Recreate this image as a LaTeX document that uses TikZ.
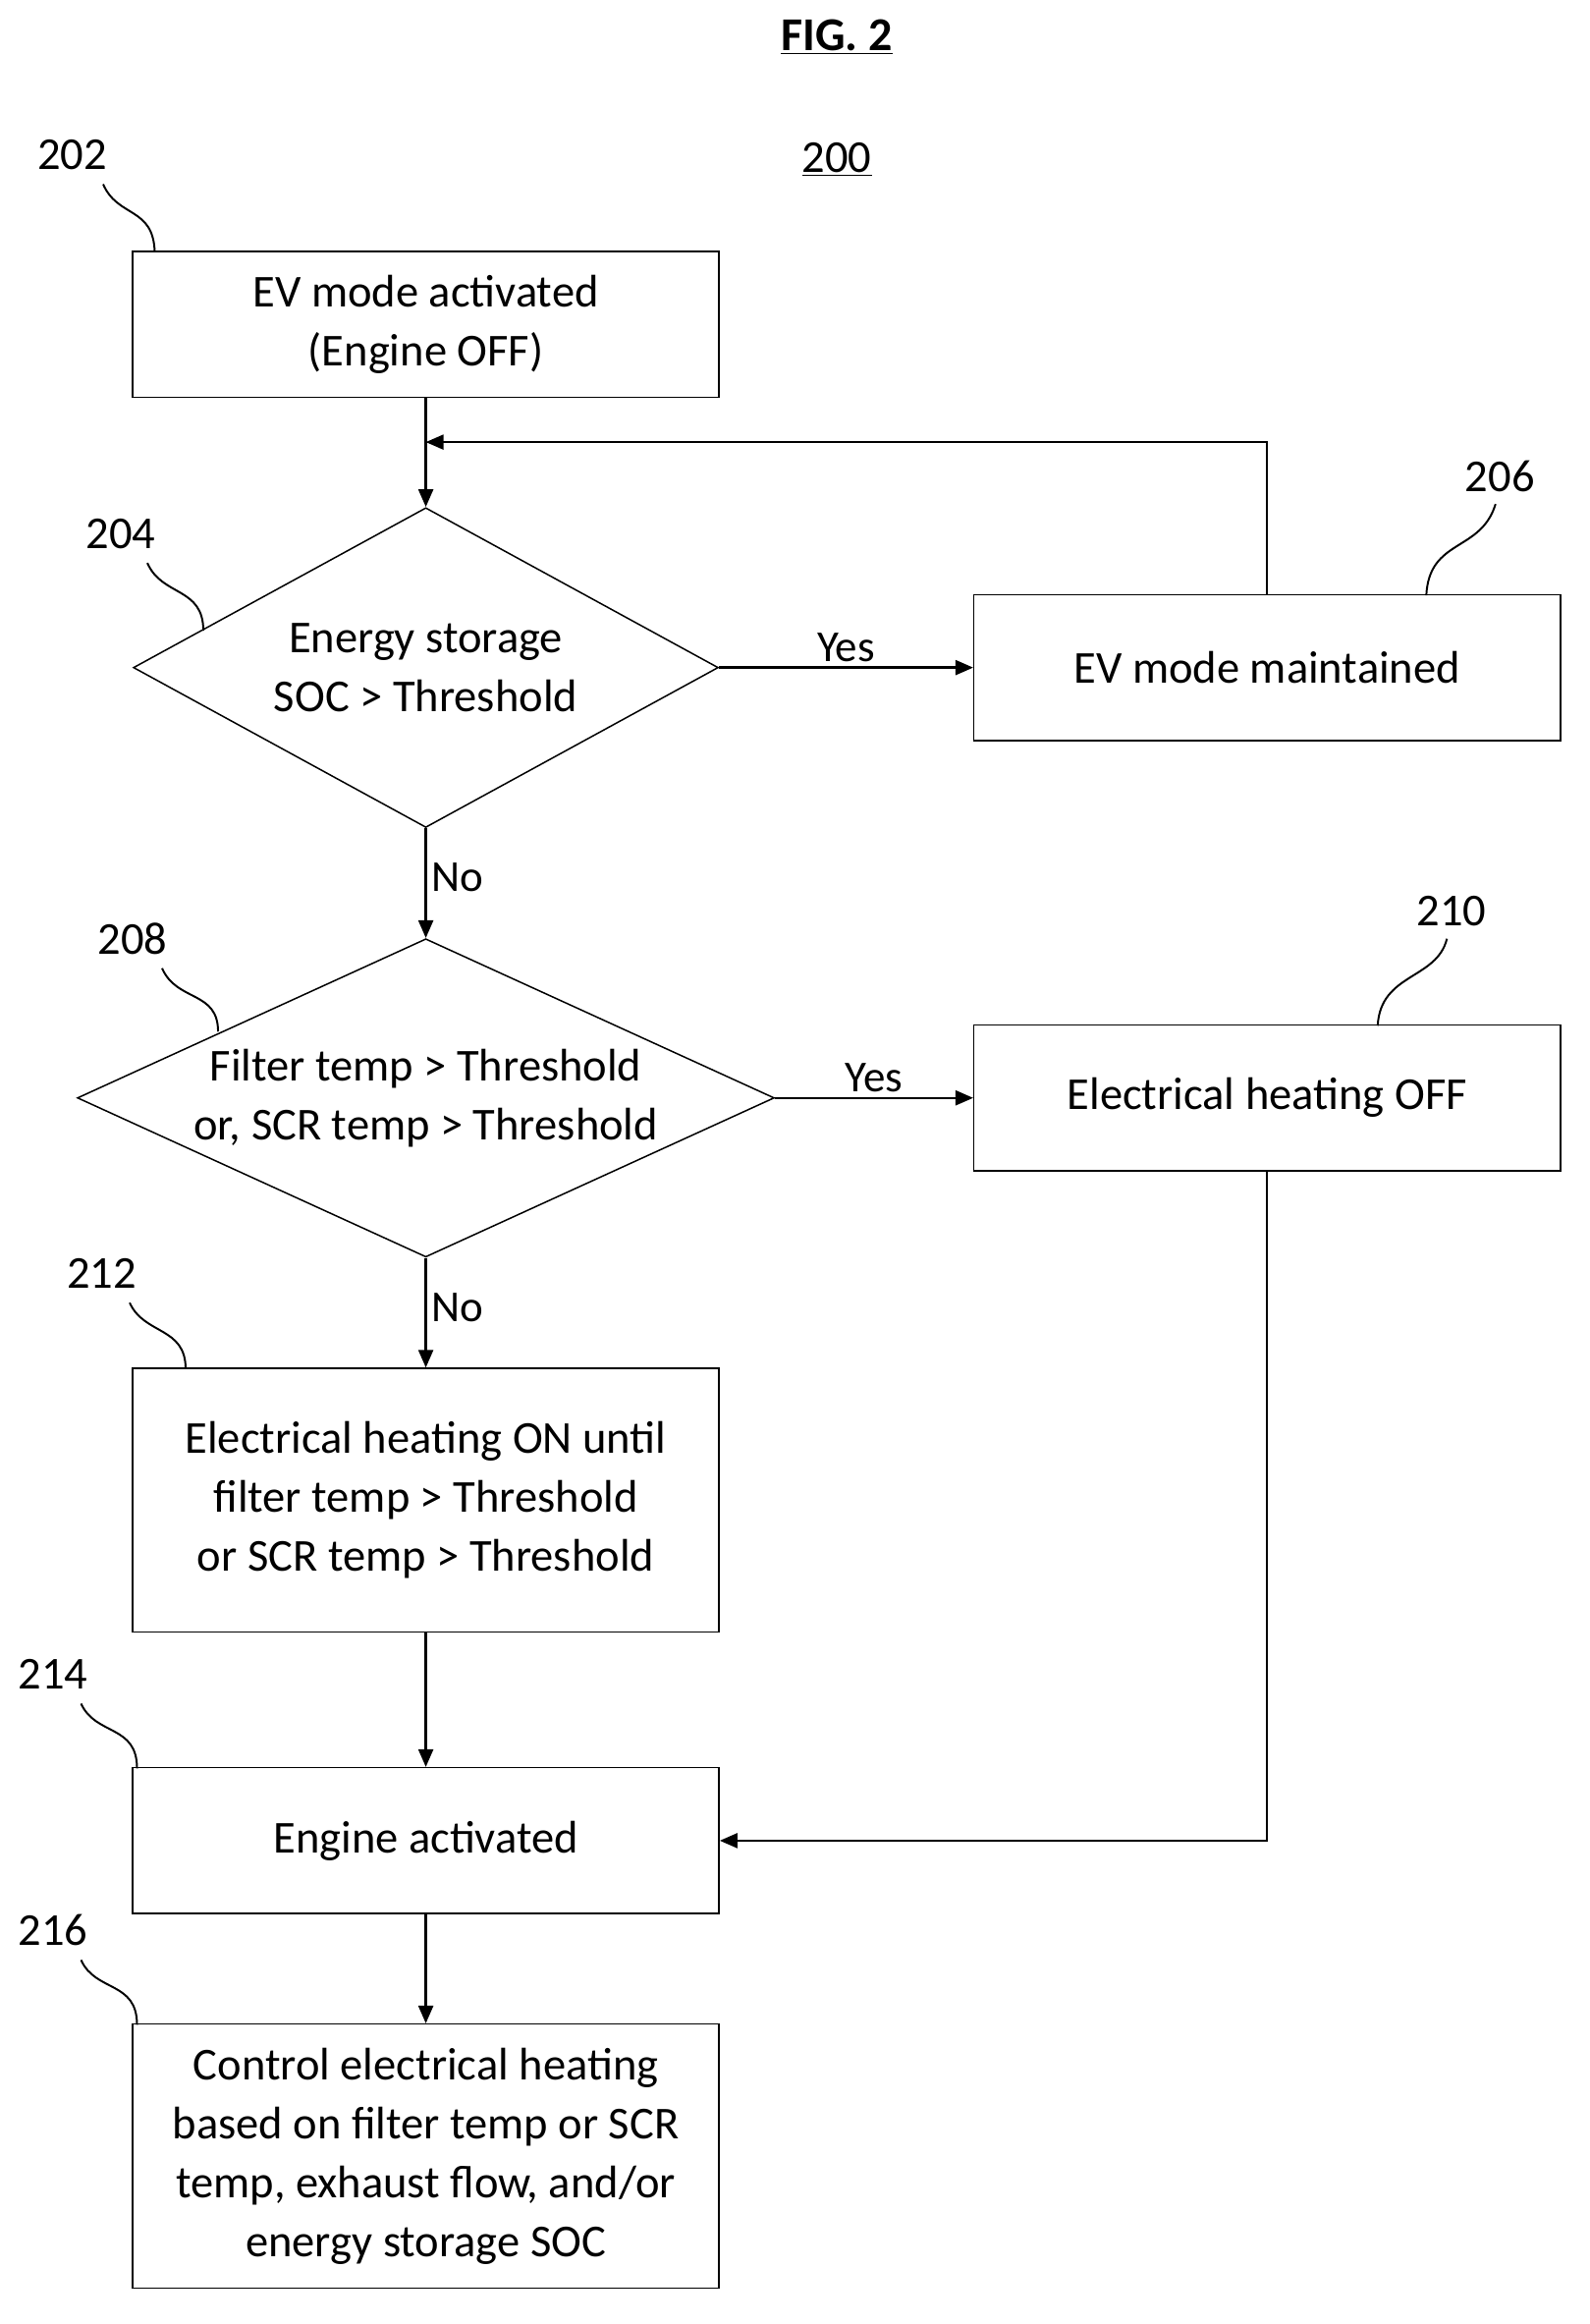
\documentclass[tikz,border=0pt]{standalone}
\usepackage{fontspec}
\setmainfont{Carlito}
\usetikzlibrary{shapes.geometric,arrows.meta}
\begin{document}
\begin{tikzpicture}[x=1pt,y=-1pt,
  every node/.style={font=\fontsize{31}{40}\selectfont},
  box/.style={draw,line width=1pt,minimum width=398pt,align=center,inner sep=0},
  dia/.style={draw,diamond,line width=1pt,align=center,inner sep=0},
  arr/.style={line width=1.6pt,-{Triangle[length=12pt,width=10pt]}},
  sq/.style={line width=1.3pt},
  lab/.style={font=\fontsize{30}{32}\selectfont}]
\useasboundingbox (0,0) rectangle (1079,1577);
\node[font=\fontsize{32}{34}\selectfont\bfseries] (fig) at (568,25) {\underline{FIG. 2}};
\node (n200) at (568,108) {\underline{200}};
\node[box,minimum height=99pt] (b202) at (289,220) {EV mode activated\\(Engine OFF)};
\node[dia,minimum width=397pt,minimum height=217pt,aspect=1.83] (d204) at (289,453) {Energy storage\\SOC > Threshold};
\node[box,minimum height=99pt] (b206) at (860,453) {EV mode maintained};
\node[dia,minimum width=473pt,minimum height=216pt,aspect=2.19] (d208) at (289,745) {Filter temp > Threshold\\or, SCR temp > Threshold};
\node[box,minimum height=99pt] (b210) at (860,745) {Electrical heating OFF};
\node[box,minimum height=179pt] (b212) at (289,1018) {Electrical heating ON until\\filter temp > Threshold\\or SCR temp > Threshold};
\node[box,minimum height=99pt] (b214) at (289,1249) {Engine activated};
\node[box,minimum height=179pt] (b216) at (289,1463) {Control electrical heating\\based on filter temp or SCR\\temp, exhaust flow, and/or\\energy storage SOC};
% connectors
\draw[arr] (b202.south) -- (d204.north);
\coordinate (lp) at (289,300);
\draw[arr] (b206.north) |- (lp);
\draw[arr] (d204.east) -- node[above,lab] {Yes} (b206.west);
\draw[arr] (d204.south) -- node[right,lab,pos=0.45] {No} (d208.north);
\draw[arr] (d208.east) -- node[above,lab] {Yes} (b210.west);
\draw[arr] (d208.south) -- node[right,lab,pos=0.45] {No} (b212.north);
\draw[arr] (b212.south) -- (b214.north);
\draw[arr] (b210.south) |- (b214.east);
\draw[arr] (b214.south) -- (b216.north);
% reference labels
\node (l202) at (49,105) {202};
\draw[sq] (70,125) .. controls (80,148) and (104,140) .. (105,171);
\node (l204) at (82,362) {204};
\draw[sq] (100,382) .. controls (110,405) and (138,398) .. (138,428);
\node (l206) at (1018,323) {206};
\draw[sq] (1015,342) .. controls (1005,375) and (970,365) .. (968,404);
\node (l208) at (90,637) {208};
\draw[sq] (110,657) .. controls (120,680) and (148,672) .. (148,700);
\node (l210) at (985,618) {210};
\draw[sq] (982,637) .. controls (975,665) and (937,660) .. (935,696);
\node (l212) at (69,864) {212};
\draw[sq] (88,884) .. controls (98,906) and (126,900) .. (126,929);
\node (l214) at (36,1136) {214};
\draw[sq] (55,1156) .. controls (65,1178) and (93,1170) .. (93,1200);
\node (l216) at (36,1310) {216};
\draw[sq] (55,1330) .. controls (65,1352) and (93,1344) .. (93,1374);
\end{tikzpicture}
\end{document}
